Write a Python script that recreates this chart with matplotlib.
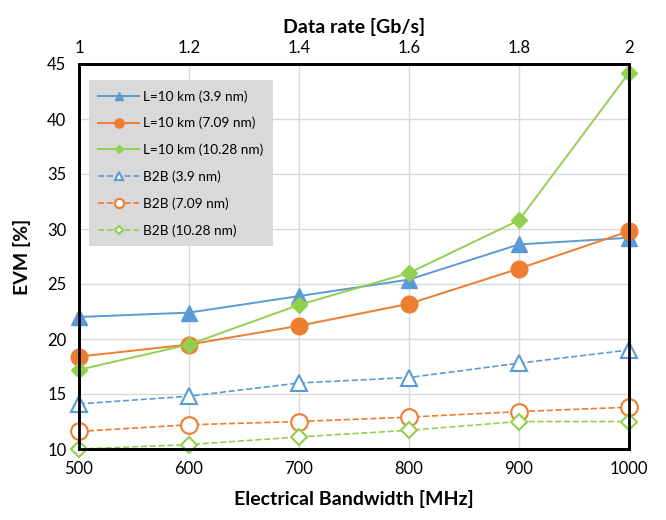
import numpy as np
import matplotlib.pyplot as plt

plt.rcParams['font.family'] = ['Lato', 'DejaVu Sans']

# data
bw = [500, 600, 700, 800, 900, 1000]
rate_ticks = [1, 1.2, 1.4, 1.6, 1.8, 2]

l10_39 = [22.0, 22.4, 23.9, 25.4, 28.6, 29.2]
l10_709 = [18.4, 19.5, 21.2, 23.2, 26.4, 29.8]
l10_1028 = [17.2, 19.5, 23.1, 26.0, 30.8, 44.2]
b2b_39 = [14.1, 14.8, 16.0, 16.5, 17.8, 19.0]
b2b_709 = [11.6, 12.2, 12.5, 12.9, 13.4, 13.8]
b2b_1028 = [10.0, 10.4, 11.1, 11.7, 12.5, 12.5]

blue = '#5B9BD5'
orange = '#ED7D31'
green = '#92D050'

fig = plt.figure(figsize=(6.66, 5.2), dpi=100)
ax = fig.add_axes([79/666, 71/520, 550/666, 385/520])

kw = dict(clip_on=False, zorder=3)
ax.plot(bw, l10_39, '-', color=blue, marker='^', ms=11, lw=1.4, label='L=10 km (3.9 nm)', **kw)
ax.plot(bw, l10_709, '-', color=orange, marker='o', ms=12, lw=1.4, label='L=10 km (7.09 nm)', **kw)
ax.plot(bw, l10_1028, '-', color=green, marker='D', ms=8, lw=1.4, label='L=10 km (10.28 nm)', **kw)
ax.plot(bw, b2b_39, '--', color=blue, marker='^', ms=11, mfc='white', mew=1.5, lw=1.2, label='B2B (3.9 nm)', **kw)
ax.plot(bw, b2b_709, '--', color=orange, marker='o', ms=12, mfc='white', mew=1.5, lw=1.2, label='B2B (7.09 nm)', **kw)
ax.plot(bw, b2b_1028, '--', color=green, marker='D', ms=8, mfc='white', mew=1.5, lw=1.2, label='B2B (10.28 nm)', **kw)

ax.set_xlim(500, 1000)
ax.set_ylim(10, 45)
ax.set_xticks(bw)
ax.set_yticks(np.arange(10, 46, 5))
ax.tick_params(labelsize=12, length=0, pad=9)
ax.grid(True, color='#d9d9d9', lw=1)
ax.set_axisbelow(True)
for s in ax.spines.values():
    s.set_linewidth(2)
    s.set_color('black')
ax.set_xlabel('Electrical Bandwidth [MHz]', fontsize=14, fontweight='bold', labelpad=9)
ax.set_ylabel('EVM [%]', fontsize=14, fontweight='bold', labelpad=12)

ax2 = ax.twiny()
ax2.set_xlim(1, 2)
ax2.set_xticks(rate_ticks)
ax2.set_xticklabels(['1', '1.2', '1.4', '1.6', '1.8', '2'])
ax2.tick_params(labelsize=12, length=0, pad=6)
ax2.set_xlabel('Data rate [Gb/s]', fontsize=14, fontweight='bold', labelpad=5)
for s in ax2.spines.values():
    s.set_linewidth(2)

leg = ax.legend(loc='upper left', bbox_to_anchor=(0.005, 0.975), fontsize=9.8,
                frameon=True, fancybox=False, handlelength=3, labelspacing=1.05,
                markerscale=0.55, borderpad=0.7, handletextpad=0.3)
leg.get_frame().set_facecolor('#d9d9d9')
leg.get_frame().set_edgecolor('none')
leg.get_frame().set_alpha(1)
leg.set_zorder(5)

fig.savefig('out.png', dpi=100)
